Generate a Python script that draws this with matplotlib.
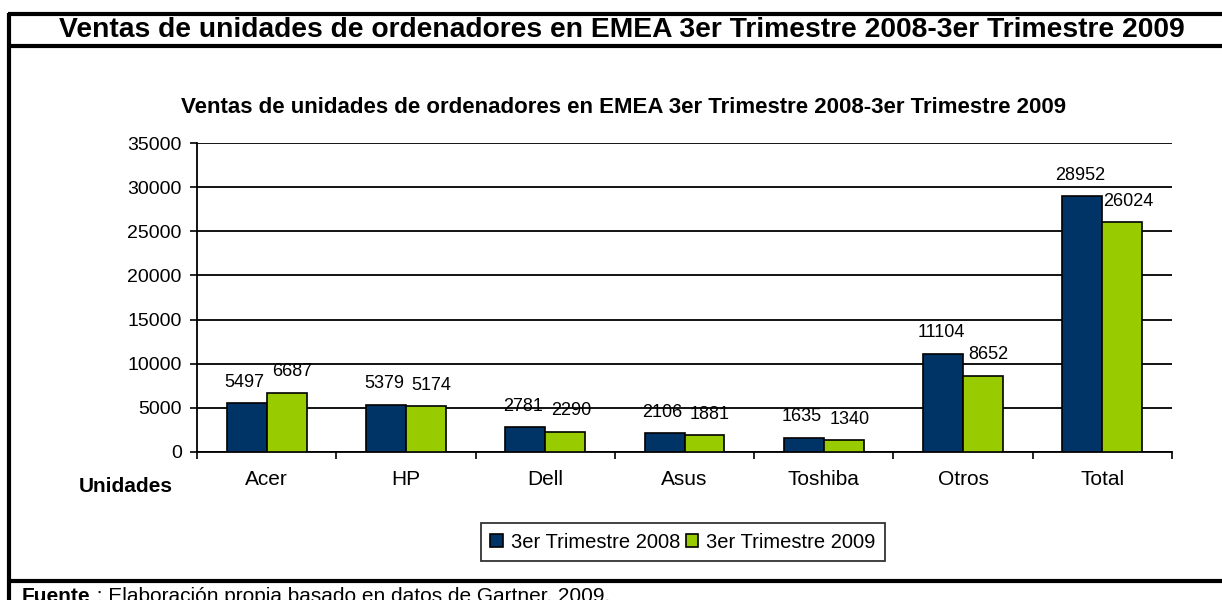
import matplotlib.pyplot as plt
from matplotlib.lines import Line2D
from matplotlib.patches import Patch
import numpy as np

plt.rcParams['font.family'] = ['Liberation Sans', 'DejaVu Sans']

# Chart data (units)
categories = ["Acer", "HP", "Dell", "Asus", "Toshiba", "Otros", "Total"]
q3_2008 = [5497, 5379, 2781, 2106, 1635, 11104, 28952]
q3_2009 = [6687, 5174, 2290, 1881, 1340, 8652, 26024]
series_names = ["3er Trimestre 2008", "3er Trimestre 2009"]
y_ticks = [0, 5000, 10000, 15000, 20000, 25000, 30000, 35000]

header = "Ventas de unidades de ordenadores en EMEA 3er Trimestre 2008-3er Trimestre 2009"
chart_title = "Ventas de unidades de ordenadores en EMEA 3er Trimestre 2008-3er Trimestre 2009"

W, H = 1222, 600
fig = plt.figure(figsize=(W / 100, H / 100), dpi=100)
fig.patch.set_facecolor("white")


def fx(px):
    return px / W


def fy(py):
    # py measured from top of the image
    return 1 - py / H


# Table-like frame around the chart
frame_kw = dict(color="black", lw=3, transform=fig.transFigure, solid_capstyle="butt")
fig.add_artist(Line2D([fx(8), fx(1222)], [fy(14), fy(14)], **frame_kw))
fig.add_artist(Line2D([fx(8), fx(1222)], [fy(46), fy(46)], **frame_kw))
fig.add_artist(Line2D([fx(8), fx(1222)], [fy(581), fy(581)], **frame_kw))
fig.add_artist(Line2D([fx(9), fx(9)], [fy(13), fy(600)], **frame_kw))

fig.text(fx(622), fy(37), header, ha="center", va="baseline",
         fontsize=20.3, fontweight="bold")

# Chart axes
ax = fig.add_axes([fx(197), fy(452), fx(1172 - 197), (452 - 143) / H])
x = np.arange(len(categories))
bw = 0.287
dark = "#003366"
green = "#99CC00"
b1 = ax.bar(x - bw / 2, q3_2008, bw, color=dark, edgecolor="black", lw=1.2, zorder=3)
b2 = ax.bar(x + bw / 2, q3_2009, bw, color=green, edgecolor="black", lw=1.2, zorder=3)

# value labels; Excel nudges the second series a bit to the right
for rects, vals, dx in ((b1, q3_2008, -1.5), (b2, q3_2009, 4)):
    for r, v in zip(rects, vals):
        ax.annotate(str(v), (r.get_x() + r.get_width() / 2, v),
                    xytext=(dx, 9), textcoords="offset points",
                    ha="center", va="bottom", fontsize=13)

ax.set_xlim(-0.5, len(categories) - 0.5)
ax.set_ylim(0, 35000)
ax.set_yticks(y_ticks)
ax.set_yticklabels([str(t) for t in y_ticks], fontsize=14)
ax.yaxis.grid(True, color="black", lw=1.3, zorder=0)
ax.set_axisbelow(True)

ax.set_xticks(np.arange(-0.5, len(categories), 1.0))
ax.set_xticklabels([])
ax.set_xticks(x, minor=True)
ax.set_xticklabels(categories, minor=True, fontsize=15)
ax.tick_params(axis="x", which="minor", length=0, pad=13)
ax.tick_params(axis="x", which="major", length=5, width=1.2, direction="out")
ax.tick_params(axis="y", length=5, width=1.2, direction="out", pad=6)

for s in ("top", "right"):
    ax.spines[s].set_visible(False)
for s in ("left", "bottom"):
    ax.spines[s].set_linewidth(1.3)

fig.text(fx(624), fy(108), chart_title, ha="center", va="center",
         fontsize=16, fontweight="bold")
fig.text(fx(126), fy(487), "Unidades", ha="center", va="center",
         fontsize=15, fontweight="bold")

handles = [Patch(facecolor=dark, edgecolor="black", lw=1.2),
           Patch(facecolor=green, edgecolor="black", lw=1.2)]
leg = fig.legend(handles, series_names, loc="center",
                 bbox_to_anchor=(fx(683), fy(542)), ncol=2, fontsize=14.5,
                 frameon=True, fancybox=False, edgecolor="black",
                 handlelength=0.6, handleheight=0.6, handletextpad=0.4,
                 columnspacing=0.3, borderpad=0.45)
leg.get_frame().set_linewidth(1.3)

# footer with the source, partly cut by the image edge as in the original
src = fig.text(fx(22), fy(587), "Fuente", ha="left", va="top",
               fontsize=15, fontweight="bold")
plt.annotate(" : Elaboración propia basado en datos de Gartner, 2009.",
             xy=(1, 1), xycoords=src, ha="left", va="top", fontsize=15,
             annotation_clip=False)

fig.savefig("out.png", dpi=100)
